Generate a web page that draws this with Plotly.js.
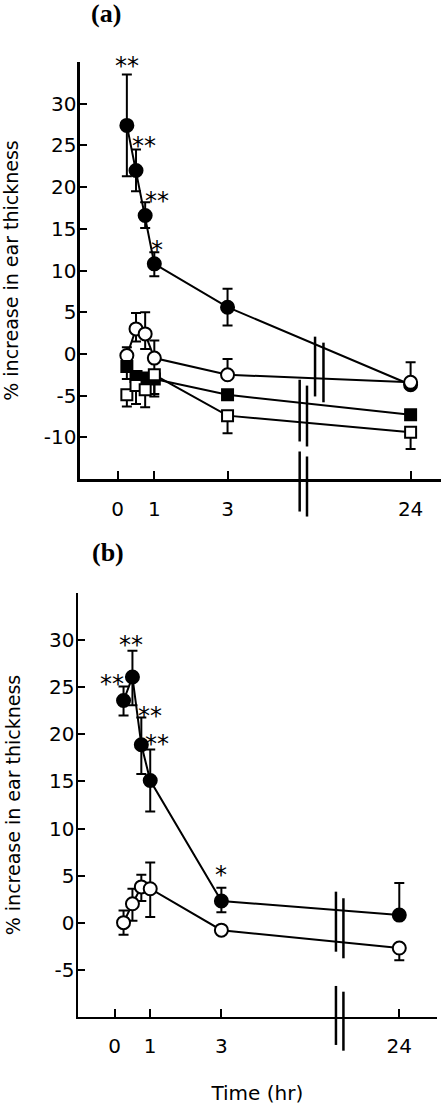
<!DOCTYPE html>
<html><head><meta charset="utf-8">
<script src="https://cdn.plot.ly/plotly-3.0.1.min.js"></script>
<style>html,body{margin:0;padding:0;background:#fff}#chart{width:441px;height:1105px}</style>
</head><body><div id="chart"></div>
<script>
// ---------- data ----------
const times = [0.25, 0.5, 0.75, 1, 3, 24];           // hr
const tickTimes = [0, 1, 3, 24];
const tickLabels = ['0', '1', '3', '24'];
const yTickValsA = [30, 25, 20, 15, 10, 5, 0, -5, -10];
const yTickTextA = ['30', '25', '20', '15', '10', '5', '0', '-5', '-10'];
const yTickValsB = [30, 25, 20, 15, 10, 5, 0, -5];
const yTickTextB = ['30', '25', '20', '15', '10', '5', '0', '-5'];

// Panel (a)
const aFilledCircle   = [27.4, 22.0, 16.6, 10.8, 5.6, -3.7];
const aFilledCircleUp = [6.1, 2.5, 1.6, 1.4, 2.2, 0];
const aFilledCircleDn = [6.1, 2.5, 1.5, 1.5, 2.2, 0];
const aOpenCircle     = [-0.2, 3.0, 2.4, -0.5, -2.5, -3.4];
const aOpenCircleUp   = [1.0, 1.9, 2.6, 2.1, 1.9, 2.4];
const aOpenCircleDn   = [0, 1.5, 1.8, 1.5, 0, 0];
const aFilledSquare   = [-1.5, -2.7, -2.9, -3.0, -4.9, -7.3];
const aFilledSquareUp = [0, 0, 0, 0, 0, 0];
const aFilledSquareDn = [1.5, 1.6, 1.5, 1.8, 0, 0];
const aOpenSquare     = [-4.9, -3.8, -4.3, -2.5, -7.4, -9.4];
const aOpenSquareUp   = [0, 0, 0, 0, 0, 0];
const aOpenSquareDn   = [1.4, 2.2, 2.1, 2.6, 2.1, 2.0];
const aStars = ['**', '**', '**', '*'];          // on filled circles, first points

// Panel (b)
const bFilledCircle   = [23.6, 26.1, 18.9, 15.1, 2.3, 0.8];
const bFilledCircleUp = [1.5, 2.8, 2.9, 3.3, 1.4, 3.4];
const bFilledCircleDn = [1.6, 3.0, 3.1, 3.3, 1.2, 0];
const bOpenCircle     = [0.0, 2.0, 3.8, 3.6, -0.8, -2.7];
const bOpenCircleUp   = [1.3, 1.6, 1.3, 2.8, 0, 0];
const bOpenCircleDn   = [1.3, 1.8, 1.5, 3.0, 0, 1.3];
const bStars = ['**', '**', '**', '**', '*'];

// ---------- broken time axis ----------
const lastShown = 3, brokenPos = 8;
function axisPos(t) { return t > lastShown ? brokenPos : t; }

const FONT = 'DejaVu Sans';
function series(xa, ya, vals, up, dn, symbol, fill) {
  return {
    type: 'scatter', mode: 'lines+markers', xaxis: xa, yaxis: ya,
    x: times.map(axisPos), y: vals,
    line: {color: '#000', width: 2},
    marker: {symbol: symbol, size: symbol === 'square' ? 11 : 13, color: fill,
             line: {color: '#000', width: 2}},
    error_y: {type: 'data', symmetric: false, array: up, arrayminus: dn,
              color: '#000', thickness: 2, width: 5},
    cliponaxis: false, showlegend: false, hoverinfo: 'skip'
  };
}

const traces = [
  series('x', 'y', aFilledCircle, aFilledCircleUp, aFilledCircleDn, 'circle', '#000'),
  series('x', 'y', aOpenCircle, aOpenCircleUp, aOpenCircleDn, 'circle', '#fff'),
  series('x', 'y', aFilledSquare, aFilledSquareUp, aFilledSquareDn, 'square', '#000'),
  series('x', 'y', aOpenSquare, aOpenSquareUp, aOpenSquareDn, 'square', '#fff'),
  series('x2', 'y2', bFilledCircle, bFilledCircleUp, bFilledCircleDn, 'circle', '#000'),
  series('x2', 'y2', bOpenCircle, bOpenCircleUp, bOpenCircleDn, 'circle', '#fff')
];

const xRangeA = [-1.03, 8.83], yRangeA = [-15, 35];
const xRangeB = [-1.03, 9.05], yRangeB = [-10, 35];

function xAxis(range, domain, anchor) {
  return {
    domain: domain, anchor: anchor, range: range, fixedrange: true,
    showline: true, linecolor: '#000', linewidth: 2.5,
    ticks: 'inside', ticklen: 8, tickwidth: 2, tickcolor: '#000',
    tickmode: 'array', tickvals: tickTimes.map(axisPos), ticktext: tickLabels,
    tickfont: {family: FONT, size: 20, color: '#000'}, ticklabelstandoff: 10,
    showgrid: false, zeroline: false
  };
}
function yAxis(range, domain, anchor, vals, text) {
  return {
    domain: domain, anchor: anchor, range: range, fixedrange: true,
    showline: true, linecolor: '#000', linewidth: 2.5,
    ticks: 'inside', ticklen: 7, tickwidth: 2, tickcolor: '#000',
    tickmode: 'array', tickvals: vals, ticktext: text,
    tickfont: {family: FONT, size: 20, color: '#000'}, ticklabelstandoff: -3,
    showgrid: false, zeroline: false,
    title: {text: '% increase in ear thickness', font: {family: FONT, size: 19, color: '#000'}, standoff: 24}
  };
}

// break marks, in axis units: [x, y0, y1]
const breaksA = [[5.39, 2.07, -5.1], [5.62, 1.35, -5.8],
                 [4.97, -3.1, -10.5], [5.17, -3.8, -11.1],
                 [4.97, -11.7, -18.9], [5.17, -12.3, -19.5]];
const breaksB = [[6.22, 3.29, -3.09], [6.43, 2.59, -3.79],
                 [6.22, -6.73, -13.0], [6.43, -7.34, -13.61]];
function frac(v, r) { return (v - r[0]) / (r[1] - r[0]); }
const shapes = [];
breaksA.forEach(b => shapes.push({type: 'line', xref: 'x domain', yref: 'y domain',
  x0: frac(b[0], xRangeA), x1: frac(b[0], xRangeA), y0: frac(b[1], yRangeA), y1: frac(b[2], yRangeA),
  line: {color: '#000', width: 2.5}}));
breaksB.forEach(b => shapes.push({type: 'line', xref: 'x2 domain', yref: 'y2 domain',
  x0: frac(b[0], xRangeB), x1: frac(b[0], xRangeB), y0: frac(b[1], yRangeB), y1: frac(b[2], yRangeB),
  line: {color: '#000', width: 2.5}}));

// significance stars anchored at top of the error bar
const starOffA = [[0, 9], [8, 4], [12, 1], [3, 2]];
const starOffB = [[-12, 2], [-1, 6], [9, 2], [7, 5], [0, 13]];
const annotations = [];
aStars.forEach((s, i) => annotations.push({xref: 'x', yref: 'y', x: axisPos(times[i]),
  y: aFilledCircle[i] + aFilledCircleUp[i], text: s, showarrow: false, xanchor: 'center', yanchor: 'middle',
  xshift: starOffA[i][0], yshift: starOffA[i][1], font: {family: FONT, size: 24, color: '#000'}}));
bStars.forEach((s, i) => annotations.push({xref: 'x2', yref: 'y2', x: axisPos(times[i]),
  y: bFilledCircle[i] + bFilledCircleUp[i], text: s, showarrow: false, xanchor: 'center', yanchor: 'middle',
  xshift: starOffB[i][0], yshift: starOffB[i][1], font: {family: FONT, size: 24, color: '#000'}}));
annotations.push({xref: 'paper', yref: 'paper', x: 0.0763, y: 1.0263, text: '<b>(a)</b>', showarrow: false,
  xanchor: 'center', yanchor: 'middle', font: {family: 'Liberation Serif', size: 26, color: '#000'}});
annotations.push({xref: 'paper', yref: 'paper', x: 0.0835, y: 0.5, text: '<b>(b)</b>', showarrow: false,
  xanchor: 'center', yanchor: 'middle', font: {family: 'Liberation Serif', size: 26, color: '#000'}});

const xa2 = xAxis(xRangeB, [0, 0.988], 'y2');
xa2.title = {text: 'Time (hr)', font: {family: FONT, size: 20, color: '#000'}, standoff: 30};

const layout = {
  width: 441, height: 1105,
  margin: {l: 78, r: 0, t: 40, b: 40},
  paper_bgcolor: '#fff', plot_bgcolor: 'rgba(0,0,0,0)',
  showlegend: false,
  xaxis: xAxis(xRangeA, [0.0055, 1], 'y'),
  yaxis: yAxis(yRangeA, [0.5717, 0.9785], 'x', yTickValsA, yTickTextA),
  xaxis2: xa2,
  yaxis2: yAxis(yRangeB, [0.0471, 0.4602], 'x2', yTickValsB, yTickTextB),
  shapes: shapes,
  annotations: annotations
};

Plotly.newPlot('chart', traces, layout, {staticPlot: true, displayModeBar: false});
</script></body></html>
